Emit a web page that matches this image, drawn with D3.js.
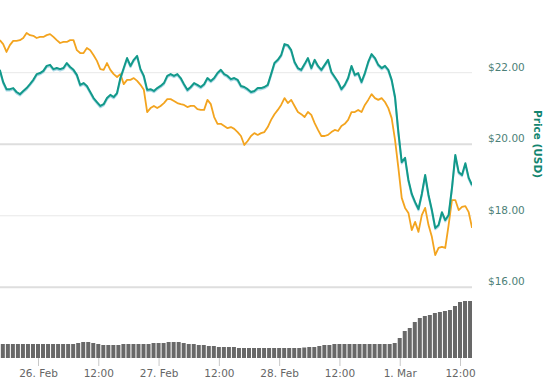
<!DOCTYPE html>
<html><head><meta charset="utf-8">
<script src="https://cdn.jsdelivr.net/npm/d3@7/dist/d3.min.js"></script>
<style>
html,body{margin:0;padding:0;background:#fff;}
svg{display:block;font-family:"DejaVu Sans",Verdana,sans-serif;}
</style></head><body>
<svg id="chart" width="560" height="390"></svg>
<script>
// ---- data ----
const priceStart = "2018-02-25T16:24:00Z";
const priceStepMinutes = 40;
const tealPrices = [
22.08,21.74,21.54,21.54,21.57,21.46,21.40,21.49,21.57,21.68,
21.80,21.96,21.99,22.05,22.19,22.22,22.10,22.13,22.10,22.13,
22.27,22.16,22.08,21.94,21.66,21.71,21.63,21.46,21.29,21.18,
21.07,21.12,21.29,21.38,21.32,21.43,21.85,22.13,22.41,22.19,
22.36,22.47,22.10,21.91,21.52,21.54,21.49,21.57,21.63,21.71,
21.91,21.96,21.91,21.96,21.85,21.68,21.52,21.60,21.71,21.66,
21.60,21.68,21.85,21.77,21.85,21.99,22.08,21.96,21.91,21.82,
21.85,21.80,21.63,21.60,21.54,21.46,21.49,21.57,21.57,21.60,
21.66,21.96,22.27,22.36,22.49,22.80,22.77,22.63,22.30,22.13,
22.08,22.24,22.41,22.13,22.36,22.19,22.08,22.22,22.36,22.02,
21.88,21.74,21.54,21.66,21.85,22.19,21.94,21.99,21.74,21.99,
22.30,22.52,22.41,22.22,22.13,22.19,22.08,21.80,21.32,20.34,
19.50,19.62,19.00,18.61,18.38,18.19,18.61,19.14,18.58,18.16,
17.66,17.74,18.10,17.88,18.02,18.78,19.70,19.22,19.14,19.47,
19.06,18.86
];
const orangePrices = [
22.91,22.80,22.58,22.77,22.89,22.89,22.91,22.97,23.11,23.05,
23.03,22.97,23.00,23.00,23.05,23.08,23.00,22.91,22.83,22.86,
22.86,22.91,22.91,22.63,22.55,22.55,22.69,22.63,22.49,22.33,
22.10,22.08,22.27,22.08,21.96,21.88,21.96,21.68,21.80,21.80,
21.85,21.77,21.66,21.52,20.90,21.01,21.07,21.01,21.07,21.15,
21.26,21.26,21.21,21.15,21.12,21.10,21.04,21.07,21.07,20.98,
20.96,20.96,21.24,21.12,20.76,20.57,20.57,20.51,20.45,20.48,
20.43,20.34,20.23,19.98,20.09,20.23,20.31,20.26,20.31,20.34,
20.48,20.68,20.84,20.96,21.10,21.29,21.15,21.24,21.07,20.90,
20.84,20.76,20.90,20.82,20.59,20.40,20.23,20.23,20.26,20.34,
20.40,20.37,20.51,20.57,20.68,20.90,20.90,20.96,20.90,21.10,
21.24,21.40,21.29,21.24,21.29,21.18,21.01,20.73,20.12,19.34,
18.50,18.22,18.08,17.60,17.83,17.55,18.02,18.22,17.74,17.41,
16.90,17.10,17.13,17.10,17.74,18.44,18.44,18.16,18.25,18.27,
18.10,17.66
];
const volumeStart = "2018-02-25T17:00:00Z";
const volumeStepMinutes = 60;
const volumes = [
14,14,14,14,14,14,14,14,14,14,14,14,14,14,14,15,16,16,15,14,
13,13,13,13,14,14,14,14,14,14,15,15,15,16,16,16,15,14,14,13,
13,12,12,11,11,11,11,10,10,10,10,10,10,10,10,10,10,10,10,10,
10.5,11,11,12,13,13,14,14,14,14,14,14,14,14,14,14,14,14,15,20,
27,30,36,40,42,43,45,46,47,48,52,56,57,57
];
const xTickTimes = ["2018-02-26T00:00:00Z","2018-02-26T12:00:00Z","2018-02-27T00:00:00Z","2018-02-27T12:00:00Z",
                    "2018-02-28T00:00:00Z","2018-02-28T12:00:00Z","2018-03-01T00:00:00Z","2018-03-01T12:00:00Z"];
const xTickLabels = ["26. Feb","12:00","27. Feb","12:00","28. Feb","12:00","1. Mar","12:00"];
const yTicks = [16, 18, 20, 22];
const yTickLabels = ["$16.00","$18.00","$20.00","$22.00"];
const yTitle = "Price (USD)";

// ---- build ----
const t0 = new Date(priceStart).getTime();
const priceTimes = tealPrices.map((_, i) => new Date(t0 + i * priceStepMinutes * 60000));
const v0 = new Date(volumeStart).getTime();
const volumeTimes = volumes.map((_, i) => new Date(v0 + i * volumeStepMinutes * 60000));

const svg = d3.select("#chart");
const plotRight = 472;

const x = d3.scaleUtc()
  .domain([new Date("2018-02-26T00:00:00Z"), new Date("2018-03-01T12:00:00Z")])
  .range([38, 460]);
const y = d3.scaleLinear().domain([16, 22]).range([287.3, 72.7]);
const v = d3.scaleLinear().domain([0, 60]).range([358, 298]);

svg.append("defs").append("clipPath").attr("id", "clip")
  .append("rect").attr("x", 0).attr("y", 0).attr("width", plotRight).attr("height", 358);

// grid lines
svg.append("g").selectAll("line").data(yTicks).join("line")
  .attr("x1", 0).attr("x2", plotRight)
  .attr("y1", d => y(d)).attr("y2", d => y(d))
  .attr("stroke", (d, i) => (i % 2 === 0) ? "#dedede" : "#e8e8e8")
  .attr("stroke-width", (d, i) => (i % 2 === 0) ? 2 : 1);

// volume bars
svg.append("g").attr("clip-path", "url(#clip)").selectAll("rect").data(volumes).join("rect")
  .attr("x", (d, i) => x(volumeTimes[i]) - 2)
  .attr("width", 4)
  .attr("y", d => v(d))
  .attr("height", d => v(0) - v(d))
  .attr("fill", "#686868");

// price lines
const line = d3.line().x((d, i) => x(priceTimes[i])).y(d => y(d));
const lines = svg.append("g").attr("clip-path", "url(#clip)");
lines.append("path").datum(orangePrices).attr("d", line)
  .attr("fill", "none").attr("stroke", "#f3a41f").attr("stroke-width", 1.8)
  .attr("stroke-linejoin", "round");
lines.append("path").datum(tealPrices).attr("d", line)
  .attr("transform", "translate(0,1.3)")
  .attr("fill", "none").attr("stroke", "#5fb6d0").attr("stroke-width", 2).attr("opacity", 0.55)
  .attr("stroke-linejoin", "round");
lines.append("path").datum(tealPrices).attr("d", line)
  .attr("fill", "none").attr("stroke", "#12998a").attr("stroke-width", 2)
  .attr("stroke-linejoin", "round");

// x axis
const xAxis = d3.axisBottom(x)
  .tickValues(xTickTimes.map(s => new Date(s)))
  .tickFormat((d, i) => xTickLabels[i])
  .tickSize(8).tickPadding(4);
const gx = svg.append("g").attr("transform", "translate(0,358)").call(xAxis);
gx.select(".domain").remove();
gx.selectAll(".tick line").attr("stroke", "#c8c8c8");
gx.selectAll(".tick text").attr("fill", "#666").attr("font-size", "10.5px")
  .attr("font-family", "'DejaVu Sans',Verdana,sans-serif");

// y axis
const yAxis = d3.axisRight(y).tickValues(yTicks)
  .tickFormat((d, i) => yTickLabels[i]).tickSize(0).tickPadding(16);
const gy = svg.append("g").attr("transform", `translate(${plotRight},0)`).call(yAxis);
gy.select(".domain").remove();
gy.selectAll(".tick text").attr("fill", "#4d7f77").attr("font-size", "10.5px")
  .attr("y", -6).attr("font-family", "'DejaVu Sans',Verdana,sans-serif");

// axis title
svg.append("text")
  .attr("transform", "translate(534,144) rotate(90)")
  .attr("text-anchor", "middle")
  .attr("font-size", "10.5px").attr("font-weight", "bold")
  .attr("fill", "#13856f")
  .text(yTitle);
</script>
</body></html>
